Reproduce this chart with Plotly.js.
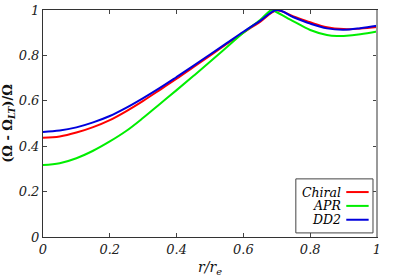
<!DOCTYPE html>
<html>
<head>
<meta charset="utf-8">
<script src="https://cdn.plot.ly/plotly-3.0.1.min.js"></script>
<style>html,body{margin:0;padding:0;background:#fff;}#chart{width:396px;height:277px;}</style>
</head>
<body>
<div id="chart"></div>
<script>
// Data
const xChiral = [0, 0.05, 0.1, 0.15, 0.2, 0.25, 0.3, 0.35, 0.4, 0.45, 0.5, 0.55, 0.6, 0.65, 0.7, 0.75, 0.8, 0.85, 0.9, 0.95, 1.0];
const yChiral = [0.437, 0.443, 0.460, 0.484, 0.515, 0.555, 0.600, 0.648, 0.697, 0.748, 0.799, 0.850, 0.900, 0.948, 0.998, 0.972, 0.946, 0.924, 0.916, 0.918, 0.925];

const xAPR = [0, 0.05, 0.1, 0.15, 0.2, 0.25, 0.3, 0.35, 0.4, 0.45, 0.5, 0.55, 0.6, 0.65, 0.685, 0.7, 0.75, 0.8, 0.85, 0.88, 0.9, 0.95, 1.0];
const yAPR = [0.317, 0.325, 0.347, 0.380, 0.421, 0.468, 0.525, 0.586, 0.647, 0.709, 0.772, 0.836, 0.900, 0.956, 1.0, 0.990, 0.950, 0.912, 0.890, 0.885, 0.886, 0.893, 0.905];

const xDD2 = [0, 0.05, 0.1, 0.15, 0.2, 0.25, 0.3, 0.35, 0.4, 0.45, 0.5, 0.55, 0.6, 0.65, 0.7, 0.75, 0.8, 0.85, 0.9, 0.95, 1.0];
const yDD2 = [0.463, 0.469, 0.483, 0.505, 0.533, 0.570, 0.612, 0.657, 0.705, 0.754, 0.804, 0.854, 0.904, 0.952, 1.0, 0.968, 0.940, 0.919, 0.913, 0.920, 0.931];

const seriesNames = ["Chiral", "APR", "DD2"];
const seriesColors = ["#ff0000", "#00ee00", "#0000dd"];
const tickVals = [0, 0.2, 0.4, 0.6, 0.8, 1];
const tickText = ["0", "0.2", "0.4", "0.6", "0.8", "1"];

const xs = [xChiral, xAPR, xDD2];
const ys = [yChiral, yAPR, yDD2];

const serif = "DejaVu Serif";

const traces = seriesNames.map((n, i) => ({
  x: xs[i], y: ys[i], name: n, type: "scatter", mode: "lines",
  line: {color: seriesColors[i], width: 2, shape: "spline", smoothing: 1},
  showlegend: false
}));

// Custom legend (text right-aligned, line sample on the right)
const legRowY = [0.198, 0.137, 0.076];
const annotations = seriesNames.map((n, i) => ({
  xref: "paper", yref: "paper", x: 0.897, y: legRowY[i],
  xanchor: "right", yanchor: "middle", showarrow: false,
  text: "<i>" + n + "</i>",
  font: {family: serif, size: 12.5, color: "#000"}
}));
const shapes = [
  {type: "rect", xref: "paper", yref: "paper", x0: 0.757, x1: 0.988, y0: 0.018, y1: 0.256,
   line: {color: "#444", width: 1}, fillcolor: "#fff", layer: "above"},
  {type: "line", xref: "paper", yref: "paper", x0: 1, x1: 1, y0: 0, y1: 1,
   line: {color: "#999", width: 2}, layer: "above"}
].concat(seriesNames.map((n, i) => ({
  type: "line", xref: "paper", yref: "paper", x0: 0.908, x1: 0.975, y0: legRowY[i], y1: legRowY[i],
  line: {color: seriesColors[i], width: 2}, layer: "above"
})));

const layout = {
  width: 396, height: 277,
  margin: {l: 43, r: 19, t: 10, b: 40},
  paper_bgcolor: "#fff", plot_bgcolor: "#fff",
  showlegend: false,
  font: {family: serif, size: 13, color: "#222"},
  xaxis: {
    range: [0, 1], tickvals: tickVals, ticktext: tickText.map(t => "<i>" + t + "</i>"),
    ticks: "inside", ticklen: 4, tickcolor: "#444", tickwidth: 1,
    showline: true, linecolor: "#333", linewidth: 1, mirror: "ticks",
    showgrid: false, zeroline: false,
    tickfont: {family: serif, size: 13, color: "#222"},
    title: {text: "<i>r/r<sub>e</sub></i>", font: {family: serif, size: 14, color: "#111"}, standoff: 6}
  },
  yaxis: {
    range: [0, 1], tickvals: tickVals, ticktext: tickText.map(t => "<i>" + t + "</i>"),
    ticks: "inside", ticklen: 4, tickcolor: "#444", tickwidth: 1,
    showline: true, linecolor: "#333", linewidth: 1, mirror: "ticks",
    showgrid: false, zeroline: false,
    tickfont: {family: serif, size: 13, color: "#222"},
    title: {text: "<b>(Ω - Ω<sub><i>LT</i></sub>)/Ω</b>", font: {family: serif, size: 13, color: "#111"}, standoff: 8}
  },
  annotations: annotations,
  shapes: shapes
};

Plotly.newPlot("chart", traces, layout, {staticPlot: true, displayModeBar: false});
</script>
</body>
</html>
